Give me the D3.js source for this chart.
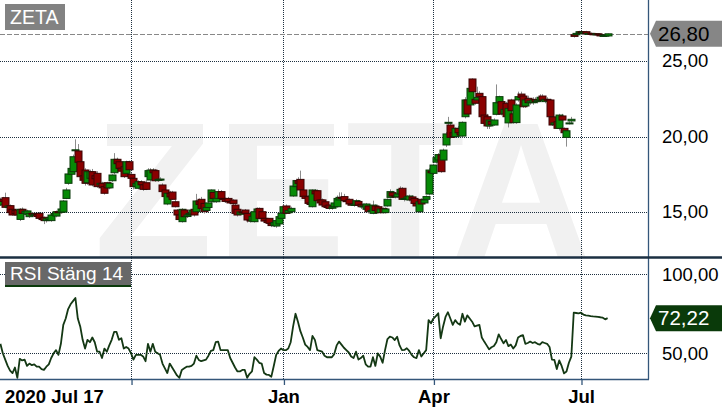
<!DOCTYPE html>
<html><head><meta charset="utf-8">
<script src="https://cdn.jsdelivr.net/npm/d3@7"></script>
<style>html,body{margin:0;padding:0;background:#fff;}svg{display:block;font-family:"Liberation Sans",Arial,sans-serif;}</style>
</head><body><svg id="c" width="722" height="411"></svg>
<script>
// ---------------- DATA ----------------
const ticker = "ZETA";
const indicatorLabel = "RSI Stäng 14";
const firstDateLabel = "2020 Jul 17";
const startDate = "2020-07-17", endDate = "2021-07-16";
const holidays = ["2020-12-24","2020-12-25","2020-12-31","2021-01-01","2021-01-06","2021-04-02","2021-04-05","2021-05-13","2021-06-25"];
const monthTicks = ["2020-10-01","2021-01-01","2021-04-01","2021-07-01"];
const monthLabels = ["","Jan","Apr","Jul"];
const priceTicks = [15,20,25];
const rsiTicks = [50,100];

const open = [
15.46,15.84,15.95,15.31,15.42,15.18,15.10,15.13,14.51,15.18,
14.91,14.85,14.69,14.91,14.80,14.85,14.91,14.58,14.65,14.43,
14.50,14.43,14.80,14.73,15.02,14.98,15.00,15.90,16.90,17.50,
17.67,19.10,19.04,18.33,17.40,17.78,16.94,17.23,17.67,17.40,
17.56,16.80,16.90,16.68,16.94,16.60,17.07,17.60,18.49,18.33,
17.90,18.00,17.56,18.33,17.49,17.23,16.68,16.57,17.00,16.80,
16.94,17.34,17.12,17.78,17.74,17.10,17.16,16.79,16.46,15.53,
16.24,16.32,15.68,15.13,14.80,14.36,15.13,14.70,14.85,14.87,
15.18,15.02,15.73,15.84,15.57,15.10,15.30,15.68,16.30,15.68,
15.90,16.35,15.90,15.85,15.90,15.70,15.79,15.46,15.18,14.85,
15.00,15.13,14.91,14.47,14.40,14.36,15.02,15.24,15.02,14.58,
14.45,14.58,14.25,14.10,14.07,14.21,14.58,14.95,15.40,14.95,
15.02,16.06,16.68,17.08,17.16,16.46,16.05,16.02,15.60,15.35,
16.40,16.41,15.80,15.80,15.68,15.40,15.46,15.25,15.35,15.35,
15.80,15.97,16.02,15.75,15.84,15.53,15.45,15.46,15.70,15.51,
15.35,15.18,15.40,15.02,14.91,15.40,15.35,14.96,15.24,14.96,
15.40,15.97,16.28,16.06,16.00,16.20,16.57,15.84,15.90,15.80,
16.00,15.90,15.57,15.02,15.84,15.60,15.84,16.19,17.70,17.56,
18.30,18.44,18.78,18.44,19.44,20.90,20.76,20.25,19.99,20.54,
20.25,20.03,21.31,22.42,22.09,23.81,22.46,22.42,22.86,22.64,
21.42,21.31,20.70,21.00,20.76,21.47,22.24,22.31,21.50,22.20,
20.90,22.42,21.50,20.92,22.42,22.81,22.68,22.02,22.53,22.24,
22.24,22.46,22.31,22.40,22.68,22.31,22.46,22.42,21.30,20.80,
20.98,20.54,21.36,20.54,19.94,20.88,21.03,26.74,26.74,26.83,
26.94,26.90,26.94,26.81,26.83,26.80,26.78,26.80,26.74,26.66,
26.70,26.66];
const high = [
15.95,16.00,16.28,15.50,15.50,15.25,15.20,15.20,15.25,15.30,
15.10,15.15,14.95,15.00,14.95,14.95,15.00,14.70,14.70,14.60,
14.70,14.85,15.00,15.10,15.10,15.30,15.80,16.60,17.90,18.00,
18.80,19.81,19.50,18.60,17.70,17.90,17.80,17.80,17.85,17.60,
17.70,17.00,17.00,16.80,17.00,17.00,17.50,18.90,18.60,18.50,
18.10,18.10,18.40,18.40,17.60,17.40,17.00,17.10,17.10,17.00,
17.10,17.90,17.90,17.90,17.85,17.20,17.30,16.90,16.60,16.30,
16.40,16.40,15.80,15.20,14.90,15.25,15.20,14.90,15.00,15.20,
15.30,16.20,15.90,16.00,15.70,15.40,15.70,16.50,16.40,16.00,
16.50,16.45,16.00,15.95,16.00,15.80,15.85,15.55,15.25,15.10,
15.15,15.20,15.00,14.60,14.80,15.10,15.30,15.30,15.10,14.70,
14.55,14.60,14.35,14.40,14.50,14.75,15.00,15.50,15.50,15.20,
15.35,16.90,17.20,17.30,17.74,16.60,16.20,16.10,15.80,16.50,
16.50,16.50,15.90,15.90,15.75,15.50,15.50,15.40,15.70,16.10,
16.30,16.30,16.20,15.90,15.90,15.65,15.60,15.85,15.80,15.60,
15.50,15.60,15.50,15.20,15.75,15.50,15.40,15.30,15.30,15.30,
15.90,16.50,16.40,16.20,16.30,16.70,16.65,16.00,16.10,16.15,
16.10,15.95,15.70,15.75,15.90,15.90,16.10,17.90,17.90,18.20,
18.70,18.90,18.90,19.20,20.30,21.30,20.90,20.40,20.60,20.70,
20.40,21.00,22.60,22.70,23.30,23.85,23.40,23.30,23.00,22.80,
21.60,21.50,21.20,21.10,21.20,23.45,22.70,22.50,21.90,22.30,
21.95,22.50,21.70,22.20,22.97,22.97,22.80,22.70,22.70,22.50,
22.60,22.60,22.50,22.80,22.80,22.60,22.60,22.50,21.40,21.00,
21.10,21.50,21.50,20.60,20.50,21.00,21.30,26.85,26.90,27.00,
27.00,26.98,27.00,26.90,26.88,26.86,26.85,26.84,26.80,26.76,
26.80,26.82];
const low = [
15.40,15.60,15.25,15.10,14.90,14.75,14.80,14.70,14.40,14.85,
14.80,14.80,14.60,14.70,14.70,14.60,14.50,14.40,14.20,14.30,
14.40,14.35,14.70,14.65,14.85,14.90,14.95,15.85,16.80,17.40,
17.60,18.90,18.20,17.20,17.00,16.75,16.80,17.10,16.70,17.00,
16.60,16.60,16.50,16.15,16.50,16.50,17.00,17.50,18.00,17.80,
17.60,17.25,17.40,17.70,17.10,16.50,16.60,16.50,16.70,16.40,
16.45,17.30,17.00,17.50,17.00,17.00,17.10,16.30,15.90,15.45,
15.90,15.80,15.30,14.70,14.40,14.30,14.60,14.60,14.70,14.80,
14.70,14.95,15.40,15.10,14.90,15.00,15.20,15.60,15.80,15.60,
15.85,15.85,15.70,15.60,15.60,15.50,15.45,14.85,14.70,14.80,
14.85,14.85,14.30,14.30,14.35,14.30,14.90,14.50,14.40,14.30,
14.20,14.10,14.00,14.00,13.95,14.10,14.50,14.90,14.85,14.90,
14.95,16.00,16.60,16.80,16.40,15.95,15.80,15.50,15.40,15.30,
16.00,15.70,15.50,15.40,15.30,15.20,15.15,15.15,15.30,15.30,
15.75,15.80,15.70,15.60,15.45,15.40,15.35,15.40,15.40,15.20,
15.20,15.10,14.90,14.95,14.85,15.00,14.90,14.90,14.90,14.90,
15.35,15.90,16.00,15.90,15.95,16.10,15.80,15.70,15.75,15.70,
15.70,15.50,15.30,14.95,15.50,15.55,15.80,16.10,17.40,17.50,
18.20,18.40,17.60,18.40,19.30,20.70,19.85,19.90,19.90,20.20,
20.00,19.95,21.20,21.40,22.00,22.90,22.10,22.30,22.60,21.20,
20.80,20.50,20.50,20.70,20.70,21.40,22.10,21.40,21.30,21.25,
20.60,21.60,20.85,20.85,22.30,22.50,21.90,21.90,22.10,22.10,
22.10,22.20,22.20,22.30,22.30,22.20,22.30,21.20,20.70,20.60,
20.50,20.40,21.00,20.10,19.33,20.80,20.90,26.55,26.70,26.80,
26.85,26.85,26.80,26.75,26.78,26.72,26.72,26.70,26.60,26.62,
26.65,26.62];
const close = [
15.84,15.70,15.31,15.40,14.96,14.80,14.90,14.80,15.18,14.91,
15.05,15.07,14.91,14.80,14.85,14.70,14.58,14.50,14.43,14.55,
14.62,14.80,14.90,15.02,14.95,15.20,15.73,16.46,17.52,17.89,
18.66,19.12,18.29,17.34,17.10,16.90,17.67,17.67,16.79,17.20,
16.68,16.90,16.60,16.24,16.60,16.90,17.45,18.49,18.20,17.89,
17.70,17.34,18.33,17.80,17.23,16.68,16.90,17.01,16.80,16.50,
16.50,17.74,17.78,17.60,17.07,17.16,17.18,16.35,16.02,16.24,
16.00,15.84,15.35,14.80,14.50,15.18,14.69,14.80,14.90,15.13,
14.80,15.73,15.50,15.24,15.02,15.30,15.60,16.46,15.90,15.90,
16.35,15.90,15.85,15.70,15.68,15.60,15.57,14.91,14.80,15.00,
14.95,14.91,14.47,14.40,14.70,15.02,15.20,14.58,14.58,14.40,
14.30,14.25,14.10,14.30,14.43,14.69,14.91,15.35,14.91,15.10,
15.24,16.72,17.08,16.90,16.46,16.02,15.90,15.57,15.50,16.46,
16.20,15.75,15.60,15.46,15.35,15.30,15.24,15.35,15.60,15.90,
15.97,15.90,15.75,15.70,15.53,15.45,15.50,15.75,15.45,15.35,
15.40,15.53,15.02,15.10,15.46,15.10,14.96,15.20,14.96,15.20,
15.84,16.35,16.06,16.00,16.20,16.50,15.84,15.90,16.00,16.06,
15.80,15.57,15.40,15.68,15.53,15.80,16.02,17.78,17.60,18.11,
18.60,18.80,17.67,19.10,20.17,20.94,19.94,20.00,20.54,20.25,
20.10,20.94,22.42,21.49,23.19,22.97,22.20,22.59,22.64,21.31,
20.87,20.70,21.09,20.80,21.09,22.24,22.64,21.49,21.80,21.31,
21.86,21.71,20.92,22.09,22.64,22.59,21.97,22.42,22.24,22.35,
22.42,22.31,22.40,22.60,22.42,22.46,22.42,21.31,20.76,20.90,
20.54,21.42,21.09,20.25,20.38,20.90,21.14,26.63,26.83,26.94,
26.90,26.92,26.81,26.83,26.80,26.78,26.80,26.76,26.66,26.70,
26.72,26.80];
const rsi = [
56,50,46,42,39,37.5,41,34.5,46.5,45.5,
46,42,43.5,42.5,43,41.5,41.5,40,39.5,41.5,
43,47,50,52,49,56,68,72,78,81,
83,85,72,67,58.5,53,58.5,57,60,57,
51,51,47,53,51,55,58.5,63.5,63.5,58.5,
59.5,53,54,53,50,46,49,49,49,48,
45,56,51,56,51,50,49,43.5,40.5,37.5,
43.5,41,38.5,36,34.5,39.5,40.5,41.5,41.5,42,
43.5,48.5,45.8,45,45.5,46,48.5,51.5,52,57,
57.4,52,52,52,52,47,44,41,38.5,38.5,
39.5,39.5,34.5,37,38.5,47.5,46,44,43.5,37.5,
36.5,36.3,35.2,42,49,51.5,53,52,52,53,
57,67,75,70,64,60,55.5,54,52,61,
58.5,52,51.5,51,48.5,47.5,47.5,47.5,49.5,55,
57.4,55.5,53.5,52,50.5,48,47,51,46,47,
48.5,43,41.6,41.6,47.5,42,50,47.9,44,52,
59,60.5,60,58.4,60.5,55,52,52.1,53.2,51.5,
49,47.5,47,52,48,50,52,71,69,72,
73.5,75.3,59.5,67,73,76,72,68,71,69,
68,75,70,74,72,70,67,67.5,68,60,
57.4,55,52.5,53.8,54.6,57,62,59,56.3,58.4,
54.5,55.5,53,55,60,61,61.5,56,56.5,57.4,
56.5,57,56,55.5,57,56.5,56,54,46,45.8,
40,45.5,42,37.3,38.5,44,47.9,75.7,75.5,75.3,
75.7,74.5,74,73.8,73.5,73.3,73.2,73,72.8,72.5,
71.5,72.22];

// ---------------- LAYOUT ----------------
const W = 722, H = 411, plotR = 648;
const topY1 = 257, rsiY0 = 258, rsiY1 = 379;
const svg = d3.select("#c");
const loc = d3.formatLocale({decimal: ",", thousands: " ", grouping: [3], currency: ["", ""]});
const fmt = loc.format(".2f");
const fmtISO = d3.utcFormat("%Y-%m-%d");
const parse = d3.utcParse("%Y-%m-%d");

const days = d3.utcDay.range(parse(startDate), d3.utcDay.offset(parse(endDate), 1))
  .filter(d => d.getUTCDay() % 6 !== 0 && !holidays.includes(fmtISO(d)));
const n = close.length;
const x = d3.scaleLinear().domain([0, n - 1]).range([0.4, 607.6]);
const yP = d3.scaleLinear().domain([12.02, 29.04]).range([topY1, 0]);
const yR = d3.scaleLinear().domain([33.73, 110.3]).range([rsiY1, rsiY0]);
const tickIdx = monthTicks.map(m => d3.bisectLeft(days.map(d => +d), +parse(m)));

const defs = svg.append("defs");
defs.append("clipPath").attr("id", "cTop").append("rect").attr("x", 0).attr("y", 0).attr("width", plotR).attr("height", topY1);
defs.append("clipPath").attr("id", "cRsi").append("rect").attr("x", 0).attr("y", rsiY0).attr("width", plotR).attr("height", rsiY1 - rsiY0);

// watermark (letters placed individually)
svg.append("g").attr("clip-path", "url(#cTop)").append("text")
  .attr("x", "94 216 346 451").attr("y", 258).attr("font-size", 194).attr("font-weight", "bold")
  .attr("fill", "#f1f1f1").text(ticker);

const gridCol = "#1e3040";
svg.append("g").selectAll("line").data(priceTicks).join("line")
  .attr("x1", 0).attr("x2", plotR).attr("y1", d => Math.round(yP(d)) + 0.5).attr("y2", d => Math.round(yP(d)) + 0.5)
  .attr("stroke", gridCol).attr("stroke-dasharray", "1,1");
svg.append("g").selectAll("line").data(rsiTicks).join("line")
  .attr("x1", 0).attr("x2", plotR).attr("y1", d => Math.round(yR(d)) + 0.5).attr("y2", d => Math.round(yR(d)) + 0.5)
  .attr("stroke", gridCol).attr("stroke-dasharray", "1,1");
svg.append("g").selectAll("line").data(tickIdx).join("line")
  .attr("x1", d => Math.round(x(d)) + 0.5).attr("x2", d => Math.round(x(d)) + 0.5)
  .attr("y1", 0).attr("y2", rsiY1)
  .attr("stroke", gridCol).attr("stroke-dasharray", "1,1");

// last price dashed line
const last = close[n - 1];
svg.append("line").attr("x1", 0).attr("x2", plotR)
  .attr("y1", Math.round(yP(last)) + 0.5).attr("y2", Math.round(yP(last)) + 0.5)
  .attr("stroke", "#888").attr("stroke-dasharray", "5,2");

// candles
const idx = d3.range(n);
const cg = svg.append("g").attr("clip-path", "url(#cTop)");
cg.selectAll("line.w").data(idx).join("line").attr("class", "w")
  .attr("x1", i => Math.round(x(i)) + 0.5).attr("x2", i => Math.round(x(i)) + 0.5)
  .attr("y1", i => yP(high[i])).attr("y2", i => yP(low[i]))
  .attr("stroke", "#8c8c8c").attr("stroke-width", 1);
cg.selectAll("rect").data(idx).join("rect")
  .attr("x", i => Math.round(x(i)) - 3)
  .attr("width", 7)
  .attr("y", i => yP(Math.max(open[i], close[i])))
  .attr("height", i => Math.max(1, Math.abs(yP(open[i]) - yP(close[i]))))
  .attr("fill", i => close[i] >= open[i] ? "#078a07" : "#8a0000")
  .attr("stroke", i => close[i] >= open[i] ? "#0b3a0b" : "#3a0404")
  .attr("stroke-width", 1);

// RSI line
svg.append("g").attr("clip-path", "url(#cRsi)").append("path")
  .datum(idx)
  .attr("d", d3.line().x(i => x(i)).y(i => yR(rsi[i])))
  .attr("fill", "none").attr("stroke", "#143814").attr("stroke-width", 1.8).attr("stroke-linejoin", "round");

// frame lines
svg.append("line").attr("x1", plotR + 0.5).attr("x2", plotR + 0.5).attr("y1", 0).attr("y2", rsiY1 + 0.5)
  .attr("stroke", "#34567a").attr("stroke-width", 1.3);
svg.append("line").attr("x1", 0).attr("x2", plotR + 1).attr("y1", rsiY1 + 0.5).attr("y2", rsiY1 + 0.5)
  .attr("stroke", "#34567a").attr("stroke-width", 1.4);
svg.append("line").attr("x1", 0).attr("x2", W).attr("y1", topY1 + 0.5).attr("y2", topY1 + 0.5)
  .attr("stroke", "#1b2f42").attr("stroke-width", 2.5);

// right axes
const ax1 = svg.append("g").attr("transform", `translate(${plotR},0)`)
  .call(d3.axisRight(yP).tickValues(priceTicks).tickFormat(fmt).tickSize(0).tickPadding(14));
const ax2 = svg.append("g").attr("transform", `translate(${plotR},0)`)
  .call(d3.axisRight(yR).tickValues(rsiTicks).tickFormat(fmt).tickSize(0).tickPadding(14));
[ax1, ax2].forEach(a => {
  a.select(".domain").remove();
  a.selectAll("text").attr("font-size", 18.5).attr("fill", "#000").attr("font-family", "Liberation Sans, Arial, sans-serif");
});

// bottom axis
const axB = svg.append("g").attr("transform", `translate(0,${rsiY1})`)
  .call(d3.axisBottom(x).tickValues(tickIdx).tickFormat((d, i) => monthLabels[i]).tickSize(6).tickPadding(4.4));
axB.select(".domain").remove();
axB.selectAll(".tick line").attr("stroke", "#34567a").attr("stroke-width", 1.3)
  .attr("transform", "translate(0.5,0)");
axB.selectAll("text").attr("font-size", 18.5).attr("font-weight", "bold").attr("fill", "#000")
  .attr("font-family", "Liberation Sans, Arial, sans-serif");
svg.append("text").attr("x", 5).attr("y", 402.5).attr("font-size", 18.5).attr("font-weight", "bold")
  .attr("fill", "#000").text(firstDateLabel);

// ticker label
svg.append("rect").attr("x", 5).attr("y", 4).attr("width", 60).attr("height", 26).attr("fill", "#828282");
svg.append("text").attr("x", 10).attr("y", 23.5).attr("font-size", 19.5).attr("fill", "#fff").text(ticker);

// indicator label
svg.append("rect").attr("x", 5).attr("y", 262).attr("width", 126).attr("height", 23).attr("fill", "#686868");
svg.append("rect").attr("x", 5).attr("y", 285).attr("width", 126).attr("height", 2).attr("fill", "#0b3a0b");
svg.append("text").attr("x", 10).attr("y", 279.5).attr("font-size", 19).attr("fill", "#fff").text(indicatorLabel);

// last value badges
function badge(yc, fill, txtCol, txt, fs) {
  const top = yc - 13, bot = yc + 13;
  svg.append("path").attr("d", `M650,${yc} L656,${top} L${W},${top} L${W},${bot} L656,${bot} Z`).attr("fill", fill);
  svg.append("text").attr("x", 658).attr("y", yc).attr("dy", "0.35em").attr("font-size", fs)
    .attr("fill", txtCol).text(txt);
}
badge(yP(last), "#868686", "#000", fmt(last), 20.5);
badge(yR(rsi[n - 1]), "#0a3a0a", "#fff", fmt(rsi[n - 1]), 20.5);
</script></body></html>
